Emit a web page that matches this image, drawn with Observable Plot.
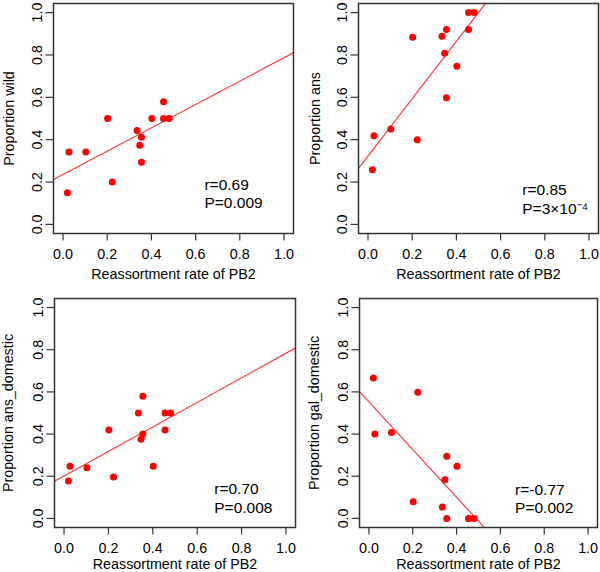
<!DOCTYPE html>
<html><head><meta charset="utf-8">
<script src="https://cdn.jsdelivr.net/npm/d3@7"></script>
<script src="https://cdn.jsdelivr.net/npm/@observablehq/plot@0.6"></script>
<style>
html,body{margin:0;padding:0;background:#fff;}
#fig{position:relative;width:600px;height:572px;overflow:hidden;background:#fff;}
.panel{position:absolute;width:300px;height:286px;}
</style></head><body><div id="fig"></div>
<script>
// Shared x values: reassortment rate of PB2
const rate = [0.020,0.027,0.103,0.202,0.223,0.335,0.347,0.355,0.355,0.402,0.455,0.455,0.480];
// Proportions per panel
const propWild        = [0.150,0.342,0.342,0.500,0.200,0.443,0.374,0.412,0.293,0.500,0.579,0.500,0.500];
const propAns         = [0.258,0.419,0.450,0.884,0.400,0.888,0.808,0.920,0.598,0.747,1.000,0.920,1.000];
const propAnsDomestic = [0.177,0.247,0.240,0.419,0.197,0.500,0.376,0.400,0.580,0.247,0.500,0.419,0.500];
const propGalDomestic = [0.666,0.400,0.408,0.079,0.598,0.054,0.184,0.295,0.000,0.247,0.000,0.000,0.000];
// Tick labels
const xTicks = [0,0.2,0.4,0.6,0.8,1.0];
const yTicks = [0,0.2,0.4,0.6,0.8,1.0];
const xTitle = "Reassortment rate of PB2";
const yTitles = ["Proportion wild","Proportion ans","Proportion ans_domestic","Proportion gal_domestic"];
const statsText = ["r=0.69\nP=0.009","r=0.85\nP=3×10\u207B\u2074","r=0.70\nP=0.008","r=-0.77\nP=0.002"];

const series = [propWild, propAns, propAnsDomestic, propGalDomestic];
const layout = [
  {left:0,   top:0,   ml:53, mr:7, mt:3,  mb:53, ylab:13.3, xlab:45.3, sx:0.64,  sy:0.148},
  {left:300, top:0,   ml:58, mr:2, mt:3,  mb:53, ylab:19,   xlab:45.3, sx:0.698, sy:0.122},
  {left:0,   top:286, ml:54, mr:5, mt:12, mb:45, ylab:12.4, xlab:41.5, sx:0.677, sy:0.100},
  {left:300, top:286, ml:59, mr:3, mt:12, mb:45, ylab:18,   xlab:41.5, sx:0.667, sy:0.096}
];
const font = "'Liberation Sans', Arial, Helvetica, sans-serif";
const fs = 14.3;
const dom = [-0.043, 1.043];

function fit(xs, ys) {
  const mx = d3.mean(xs), my = d3.mean(ys);
  let sxy = 0, sxx = 0;
  xs.forEach((x, i) => { sxy += (x - mx) * (ys[i] - my); sxx += (x - mx) ** 2; });
  const b = sxy / sxx;
  return {a: my - b * mx, b};
}

const fig = document.getElementById("fig");
series.forEach((ys, k) => {
  const L = layout[k];
  const data = rate.map((x, i) => ({x, y: ys[i]}));
  const {a, b} = fit(rate, ys);
  const lineData = dom.map(x => ({x, y: a + b * x}));
  const chart = Plot.plot({
    width: 300, height: 286,
    marginLeft: L.ml, marginRight: L.mr, marginTop: L.mt, marginBottom: L.mb,
    style: {fontFamily: font, fontSize: fs + "px", color: "#000", background: "#fff", overflow: "visible"},
    x: {domain: dom},
    y: {domain: dom},
    marks: [
      Plot.axisX({ticks: xTicks, tickFormat: d3.format(".1f"), tickSize: 7.5, tickPadding: 7.5, label: null, stroke: "#333", strokeWidth: 1.2, fontSize: fs}),
      Plot.axisY({ticks: yTicks, tickFormat: d3.format(".1f"), tickSize: 7.5, tickPadding: 4, tickRotate: -90, label: null, stroke: "#333", strokeWidth: 1.2, fontSize: fs}),
      Plot.line(lineData, {x: "x", y: "y", stroke: "#ff3a3a", strokeWidth: 1.2, clip: true}),
      Plot.dot(data, {x: "x", y: "y", r: 3.5, fill: "#ff0000", stroke: "none"}),
      Plot.frame({stroke: "#333", strokeWidth: 1.5}),
      Plot.text([statsText[k]], {x: () => L.sx, y: () => L.sy, text: d => d, textAnchor: "start", lineAnchor: "middle", fontSize: 15.5, lineHeight: 1.2, fill: "#000"}),
      Plot.text([xTitle], {frameAnchor: "bottom", text: d => d, dy: L.xlab, textAnchor: "middle", lineAnchor: "bottom", fontSize: fs, fill: "#000"}),
      Plot.text([yTitles[k]], {frameAnchor: "left", text: d => d, dx: L.ylab - L.ml, rotate: -90, textAnchor: "middle", lineAnchor: "bottom", fontSize: fs, fill: "#000"})
    ]
  });
  const div = document.createElement("div");
  div.className = "panel";
  div.style.left = L.left + "px";
  div.style.top = L.top + "px";
  div.appendChild(chart);
  fig.appendChild(div);
});
</script>
</body></html>
